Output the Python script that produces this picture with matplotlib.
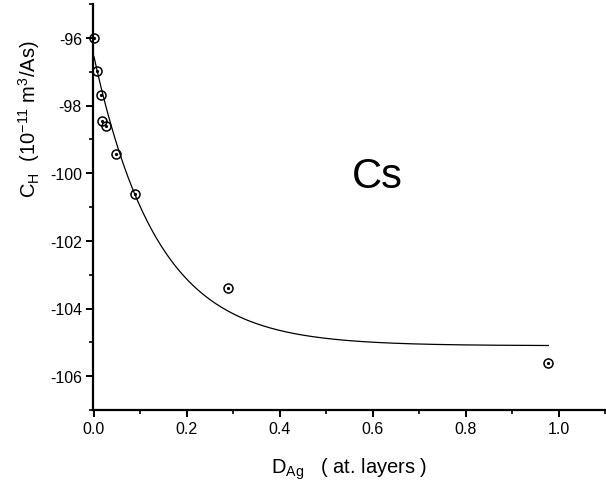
import numpy as np
import matplotlib
matplotlib.use("Agg")
import matplotlib.pyplot as plt
from matplotlib.ticker import MultipleLocator

plt.rcParams['font.family'] = ['Liberation Sans', 'DejaVu Sans']
plt.rcParams['mathtext.fontset'] = 'custom'
plt.rcParams['mathtext.rm'] = 'Liberation Sans'
plt.rcParams['mathtext.it'] = 'Liberation Sans'

# data points
d_ag = [0.0, 0.006, 0.015, 0.017, 0.026, 0.047, 0.088, 0.288, 0.978]
c_h = [-96.0, -96.98, -97.69, -98.46, -98.6, -99.43, -100.62, -103.4, -105.6]

# exponential fit parameters: y = y0 + A*exp(-x/t)
fit_y0 = -105.1
fit_A = 8.55
fit_t = 0.136
fit_xmax = 0.978

fig = plt.figure(figsize=(6.06, 4.85), dpi=100)
ax = fig.add_axes([93/606, 1-411/485, (605-93)/606, (411-5)/485])

xf = np.linspace(0, fit_xmax, 400)
ax.plot(xf, fit_y0 + fit_A*np.exp(-xf/fit_t), color='black', lw=0.9)
ax.plot(d_ag, c_h, linestyle='none', marker='o', ms=6.5, mfc='none', mec='black', mew=1.1, clip_on=False)
ax.plot(d_ag, c_h, linestyle='none', marker='o', ms=1.3, color='black', clip_on=False)

ax.set_xlim(-0.002, 1.1)
ax.set_ylim(-107, -95)
ax.xaxis.set_major_locator(MultipleLocator(0.2))
ax.xaxis.set_minor_locator(MultipleLocator(0.1))
ax.yaxis.set_major_locator(MultipleLocator(2))
ax.yaxis.set_minor_locator(MultipleLocator(1))
ax.set_xticks([0.0, 0.2, 0.4, 0.6, 0.8, 1.0])
ax.set_xticklabels(['0.0', '0.2', '0.4', '0.6', '0.8', '1.0'])
ax.set_yticks([-106, -104, -102, -100, -98, -96])
ax.set_yticklabels(['-106', '-104', '-102', '-100', '-98', '-96'])

for s in ['top', 'right']:
    ax.spines[s].set_visible(False)
for s in ['left', 'bottom']:
    ax.spines[s].set_linewidth(1.6)
ax.tick_params(which='major', direction='out', length=5, width=1.4, labelsize=11.5, pad=3)
ax.tick_params(which='minor', direction='out', length=3, width=1.2)

ax.set_xlabel(r'D$_{\mathrm{Ag}}$   ( at. layers )', fontsize=14.5)
ax.xaxis.set_label_coords(0.5, -0.112)
ax.set_ylabel(r'C$_{\mathrm{H}}$  (10$^{-11}$ m$^{3}$/As)', fontsize=14.5)
ax.yaxis.set_label_coords(-0.10, 0.72)

ax.text(0.61, -100.08, 'Cs', fontsize=30, ha='center', va='center')

fig.savefig('out.png', dpi=100)
